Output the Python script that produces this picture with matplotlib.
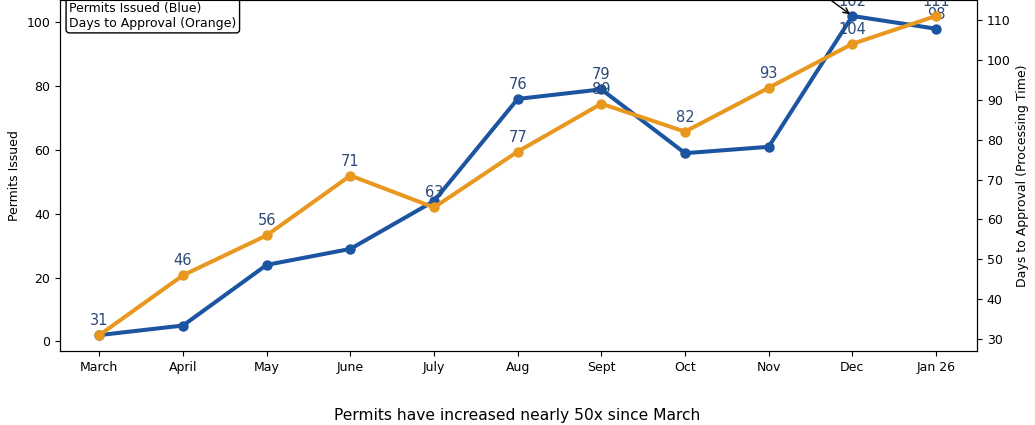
import matplotlib
matplotlib.use('Agg')
import matplotlib.pyplot as plt

months = ['March', 'April', 'May', 'June', 'July', 'Aug', 'Sept', 'Oct', 'Nov', 'Dec', 'Jan 26']
permits = [2, 5, 24, 29, 44, 76, 79, 59, 61, 102, 98]
days = [31, 46, 56, 71, 63, 77, 89, 82, 93, 104, 111]
# permits points that got a value label
permit_labels = {'Aug': 76, 'Sept': 79, 'Dec': 102, 'Jan 26': 98}

blue = '#1b54a0'
orange = '#e8981f'
label_color = '#2c4a78'

fig = plt.figure(figsize=(10.35, 4.25), dpi=100)
ax = fig.add_axes([0.058, 0.174, 0.886, 0.826])
x = list(range(len(months)))

ax.plot(x, permits, color=blue, linewidth=2.9, marker='o', markersize=6.5)
ax.set_ylabel('Permits Issued', fontsize=9)
ax.set_xticks(x)
ax.set_xticklabels(months)
ax.set_xlim(-0.47, 10.49)
ax.tick_params(labelsize=9)

for i, m in enumerate(months):
    if m in permit_labels:
        ax.annotate(str(permit_labels[m]), (i, permits[i]), xytext=(0, 5),
                    textcoords='offset points', ha='center', va='bottom',
                    fontsize=10.5, color=label_color, annotation_clip=False)

ax2 = ax.twinx()
ax2.plot(x, days, color=orange, linewidth=2.9, marker='o', markersize=6.5)
ax2.set_ylabel('Days to Approval (Processing Time)', fontsize=9)
ax2.tick_params(labelsize=9)

for i, d in enumerate(days):
    ax2.annotate(str(d), (i, d), xytext=(0, 5), textcoords='offset points',
                 ha='center', va='bottom', fontsize=10.5, color=label_color,
                 annotation_clip=False)

# arrow to the Dec peak, its text sits above the visible area
ax.annotate('', xy=(9, 102), xytext=(-30, 22), textcoords='offset points',
            arrowprops=dict(arrowstyle='->', color='black', lw=1),
            annotation_clip=False)

ax.text(0.01, 0.995, 'Permits Issued (Blue)\nDays to Approval (Orange)',
        transform=ax.transAxes, ha='left', va='top', fontsize=9,
        bbox=dict(boxstyle='round,pad=0.25', facecolor='white', edgecolor='black'))

fig.text(0.5, 0.004, 'Permits have increased nearly 50x since March',
         ha='center', va='bottom', fontsize=11.2)

fig.savefig('out.png', dpi=100)
